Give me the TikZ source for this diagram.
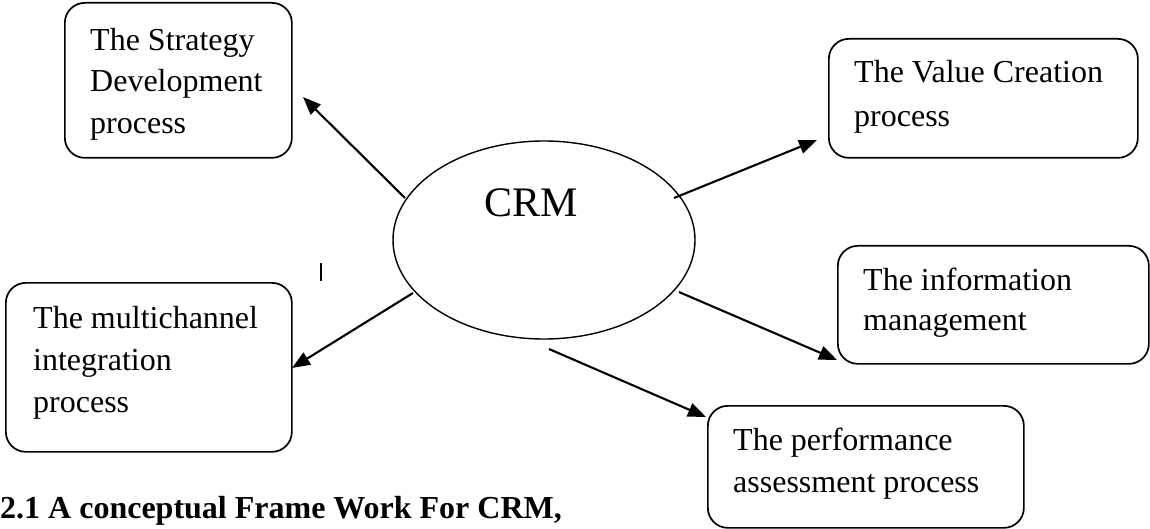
\documentclass[tikz,border=0pt]{standalone}
\usepackage{fontspec}
\setmainfont{Liberation Serif}
\usetikzlibrary{arrows.meta,shapes.geometric}
\begin{document}
\begin{tikzpicture}[x=1pt,y=-1pt,
  procbox/.style={draw,line width=1.7pt,rounded corners=20pt,anchor=north west,inner sep=0pt},
  boxtext/.style={anchor=north west,inner sep=0pt,align=left},
  arr/.style={line width=2.1pt,-{Triangle[length=18pt,width=14pt]}},
  every node/.style={font=\fontsize{32}{41.5}\selectfont}]
\useasboundingbox (0,0) rectangle (1150,529);
% central ellipse
\node[draw,ellipse,line width=1.4pt,minimum width=302pt,minimum height=198pt,inner sep=0pt] (crm) at (544,240) {};
\node[anchor=base west,inner sep=0pt,font=\fontsize{42}{50}\selectfont] (crmlabel) at (484,217) {CRM};
% boxes
\node[procbox,minimum width=227pt,minimum height=155pt] (strat) at (64,2) {};
\node[procbox,minimum width=309pt,minimum height=119pt] (value) at (828,38) {};
\node[procbox,minimum width=311pt,minimum height=118pt] (info) at (837,245) {};
\node[procbox,minimum width=316pt,minimum height=122pt] (perf) at (707,405) {};
\node[procbox,minimum width=286pt,minimum height=169pt] (multi) at (5,282) {};
% texts
\node[boxtext,font=\fontsize{32}{41.5}\selectfont] (strattext) at (90,28) {The Strategy\\Development\\process};
\node[boxtext,font=\fontsize{32}{44}\selectfont] (valuetext) at (854,60) {The Value Creation\\process};
\node[boxtext,font=\fontsize{32}{40}\selectfont] (infotext) at (863,268) {The information\\management};
\node[boxtext,font=\fontsize{32}{42}\selectfont] (perftext) at (733,428) {The performance\\assessment process};
\node[boxtext,font=\fontsize{32}{42}\selectfont] (multitext) at (33,306) {The multichannel\\integration\\process};
% caption
\node[anchor=base west,inner sep=0pt,font=\fontsize{32}{40}\selectfont\bfseries] (caption) at (0,518) {2.1 A conceptual Frame Work For CRM,};
% arrow end points
\coordinate (s1) at (405,198);
\coordinate (t1) at (303,97);
\coordinate (s2) at (674,198);
\coordinate (t2) at (817,140);
\coordinate (s3) at (413,293);
\coordinate (t3) at (292,368);
\coordinate (s4) at (679,292);
\coordinate (t4) at (837,360);
\coordinate (s5) at (549,349);
\coordinate (t5) at (706,417);
\draw[arr] (s1) -- (t1);
\draw[arr] (s2) -- (t2);
\draw[arr] (s3) -- (t3);
\draw[arr] (s4) -- (t4);
\draw[arr] (s5) -- (t5);
% stray tick
\coordinate (tickA) at (321,263);
\coordinate (tickB) at (321,281);
\draw[line width=1.5pt] (tickA) -- (tickB);
\end{tikzpicture}
\end{document}
